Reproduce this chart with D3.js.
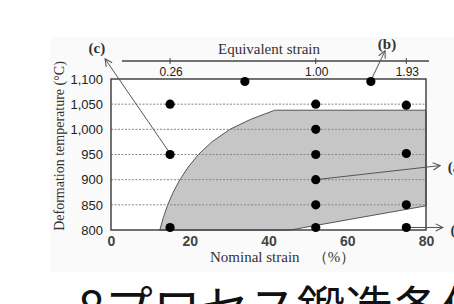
<!DOCTYPE html>
<html lang="ja">
<head>
<meta charset="UTF-8">
<title>Deformation temperature vs nominal strain</title>
<script src="https://d3js.org/d3.v7.min.js"></script>
<style>
  body { margin: 0; background: #fff; }
  svg { display: block; }
  .num text { font-family: "Liberation Sans", Arial, sans-serif; font-size: 13px; font-weight: bold; fill: #444; }
  .serif { font-family: "Liberation Serif", "Times New Roman", serif; fill: #333; }
  .jp { font-family: "Noto Sans CJK JP", sans-serif; fill: #111; }
</style>
</head>
<body>
<script>
// data
var strainTicks = [0, 20, 40, 60, 80];
var tempTicks = [800, 850, 900, 950, 1000, 1050, 1100];
var gridTemps = [850, 900, 950, 1000, 1050];
var eqStrainLabels = ["0.26", "1.00", "1.93"];
var eqStrainAt = [15, 52, 75];           // nominal strain under each equivalent-strain tick

// test conditions: nominal strain (%), temperature (C)
var testStrain = [34, 66, 15, 52, 75, 52, 15, 52, 75, 52, 52, 75, 15, 52, 75];
var testTemp   = [1095, 1095, 1050, 1050, 1048, 1000, 950, 950, 952, 900, 850, 850, 805, 805, 805];

// shaded region outline (strain, temp)
var regionStrain = [12.4, 13.3, 14.4, 15.8, 17.5, 19.6, 22.2, 25.6, 30.2, 35.5, 41.6, 80, 80, 45.5];
var regionTemp   = [800, 825, 850, 875, 900, 925, 950, 975, 1000, 1020, 1038, 1038, 848, 800];

// labelled arrows: from a test point to a label
var arrowNames = ["(c)", "(b)", "(a)", "(d)"];
var arrowFrom = [[15, 952], [66, 1097], [52, 900], [75, 805]];
var arrowTo   = [[-1.5, 1140], [69.6, 1156], [83.6, 928], [84.3, 805]];
var labelAt   = [[-3.6, 1162], [70.1, 1170], [85.5, 925], [86.2, 800]];

var width = 454, height = 304;

var svg = d3.select("body").append("svg")
    .attr("width", width)
    .attr("height", height);

// faint figure background
svg.append("rect")
    .attr("x", 50).attr("y", 37)
    .attr("width", 404).attr("height", 235)
    .attr("fill", "#fafafa");

var x = d3.scaleLinear().domain([0, 80]).range([111, 426]);
var y = d3.scaleLinear().domain([800, 1100]).range([230, 79]);

// plot background
svg.append("rect")
    .attr("x", x(0)).attr("y", y(1100))
    .attr("width", x(80) - x(0)).attr("height", y(800) - y(1100))
    .attr("fill", "#fff");

// shaded region
var regionPts = regionStrain.map(function(s, i) { return [x(s), y(regionTemp[i])]; });
svg.append("path")
    .attr("d", d3.line().curve(d3.curveLinearClosed)(regionPts))
    .attr("fill", "#c6c6c6")
    .attr("stroke", "#555")
    .attr("stroke-width", 1);

// dashed gridlines
svg.append("g").selectAll("line")
    .data(gridTemps).enter()
    .append("line")
    .attr("x1", x(0)).attr("x2", x(80))
    .attr("y1", function(d) { return y(d); })
    .attr("y2", function(d) { return y(d); })
    .attr("stroke", "#888")
    .attr("stroke-width", 1)
    .attr("stroke-dasharray", "2,1.5");

// frame
svg.append("rect")
    .attr("x", x(0)).attr("y", y(1100))
    .attr("width", x(80) - x(0)).attr("height", y(800) - y(1100))
    .attr("fill", "none")
    .attr("stroke", "#444")
    .attr("stroke-width", 1.5);

// axes
var xAxis = d3.axisBottom(x).tickValues(strainTicks).tickSize(0).tickPadding(6);
var yAxis = d3.axisLeft(y).tickValues(tempTicks).tickFormat(d3.format(",")).tickSize(0).tickPadding(8);

svg.append("g").attr("class", "num")
    .attr("transform", "translate(0," + y(800) + ")")
    .call(xAxis)
    .call(function(g) { g.select(".domain").remove(); })
    .selectAll("text").style("font-size", "14px");

svg.append("g").attr("class", "num")
    .attr("transform", "translate(" + x(0) + ",0)")
    .call(yAxis)
    .call(function(g) { g.select(".domain").remove(); })
    .selectAll("text").style("font-weight", "normal").style("fill", "#222");

// top equivalent strain axis
var topY = 61;
svg.append("line")
    .attr("x1", 122).attr("x2", 429)
    .attr("y1", topY).attr("y2", topY)
    .attr("stroke", "#444").attr("stroke-width", 1.3);

var eq = svg.append("g").attr("class", "num");
eq.selectAll("line")
    .data(eqStrainAt).enter()
    .append("line")
    .attr("x1", function(d) { return x(d); }).attr("x2", function(d) { return x(d); })
    .attr("y1", topY - 3).attr("y2", topY + 3)
    .attr("stroke", "#444");
eq.selectAll("text")
    .data(eqStrainLabels).enter()
    .append("text")
    .attr("x", function(d, i) { return x(eqStrainAt[i]) + 1; })
    .attr("y", topY + 15)
    .attr("text-anchor", "middle")
    .style("font-size", "12px")
    .style("font-weight", "normal")
    .style("fill", "#222")
    .text(function(d) { return d; });

svg.append("text").attr("class", "serif")
    .attr("x", 269).attr("y", 54)
    .attr("text-anchor", "middle")
    .style("font-size", "15px")
    .text("Equivalent strain");

// axis titles
svg.append("text").attr("class", "serif")
    .attr("x", 210).attr("y", 262)
    .style("font-size", "15px")
    .text("Nominal strain");
svg.append("text").attr("class", "serif")
    .attr("x", 334).attr("y", 262)
    .attr("text-anchor", "middle")
    .style("font-size", "15px")
    .text("（%）");

svg.append("text").attr("class", "serif")
    .attr("transform", "translate(64,146) rotate(-90)")
    .attr("text-anchor", "middle")
    .style("font-size", "14px")
    .text("Deformation temperature (°C)");

// arrows
svg.append("defs").append("marker")
    .attr("id", "head")
    .attr("viewBox", "0 0 10 10")
    .attr("refX", 9).attr("refY", 5)
    .attr("markerWidth", 9).attr("markerHeight", 9)
    .attr("markerUnits", "userSpaceOnUse")
    .attr("orient", "auto")
    .append("path")
    .attr("d", "M1,1 L9,5 L1,9")
    .attr("fill", "none")
    .attr("stroke", "#555")
    .attr("stroke-width", 1.2);

svg.append("g").selectAll("line")
    .data(arrowFrom).enter()
    .append("line")
    .attr("x1", function(d) { return x(d[0]); })
    .attr("y1", function(d) { return y(d[1]); })
    .attr("x2", function(d, i) { return x(arrowTo[i][0]); })
    .attr("y2", function(d, i) { return y(arrowTo[i][1]); })
    .attr("stroke", "#555")
    .attr("stroke-width", 1)
    .attr("marker-end", "url(#head)");

svg.append("g").selectAll("text")
    .data(arrowNames).enter()
    .append("text").attr("class", "serif")
    .attr("x", function(d, i) { return x(labelAt[i][0]); })
    .attr("y", function(d, i) { return y(labelAt[i][1]); })
    .attr("text-anchor", function(d, i) { return i < 2 ? "middle" : "start"; })
    .attr("dy", "0.35em")
    .style("font-size", "15px")
    .style("font-weight", "bold")
    .text(function(d) { return d; });

// test points
svg.append("g").selectAll("circle")
    .data(testStrain).enter()
    .append("circle")
    .attr("cx", function(d) { return x(d); })
    .attr("cy", function(d, i) { return y(testTemp[i]); })
    .attr("r", 4.6)
    .attr("fill", "#000");

// slide text cut by the window edges
svg.append("text").attr("class", "jp")
    .attr("x", 0).attr("y", -5)
    .style("font-size", "48px")
    .text("動的再結晶の発生要因");
svg.append("text").attr("class", "jp")
    .attr("x", 78).attr("y", 326)
    .style("font-size", "48px")
    .text("8プロセス鍛造条件");
</script>
</body>
</html>
